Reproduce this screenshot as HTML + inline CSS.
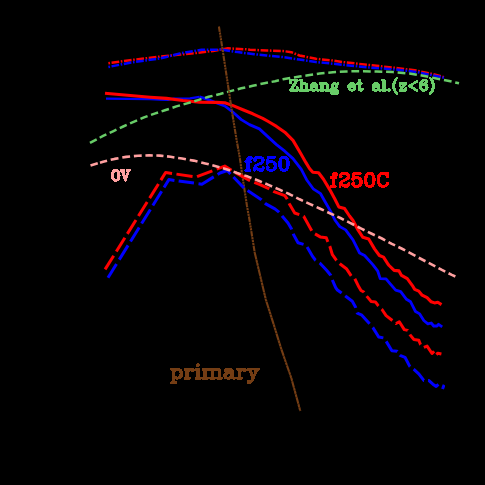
<!DOCTYPE html><html><head><meta charset="utf-8"><style>html,body{margin:0;padding:0;background:#000;overflow:hidden;}body{width:485px;height:485px;}svg{display:block;}</style></head><body>
<svg width="485" height="485" viewBox="0 0 485 485" shape-rendering="auto">
<rect width="485" height="485" fill="#000"/>
<path d="M108.4,63.2 L130.0,60.2 L160.0,56.6 L180.0,54.6 L196.5,52.9 L213.0,50.9 L227.9,48.3 L246.0,49.3 L250.0,49.7 L266.5,50.5 L283.0,51.0 L291.3,52.2 L299.5,55.5 L316.0,58.8 L330.0,60.2 L344.8,62.3 L369.5,65.0 L394.3,67.8 L400.0,68.4 L416.5,70.6 L433.0,74.1 L444.5,77.3" fill="none" stroke="#ff0000" stroke-width="2.5" stroke-linejoin="round" stroke-linecap="butt" stroke-dasharray="7.7 1.6 1.6 1.6" stroke-dashoffset="9.3"/>
<path d="M108.4,67.0 L130.0,62.7 L160.0,58.4 L171.0,55.8 L180.0,53.4 L201.5,49.8 L221.3,49.6 L237.8,52.1 L246.0,53.2 L254.3,54.2 L266.5,55.5 L283.0,57.1 L299.5,59.6 L316.0,62.1 L330.0,63.4 L344.8,65.0 L369.5,67.5 L394.3,69.4 L400.0,70.0 L416.5,72.0 L433.0,75.3 L444.5,77.9" fill="none" stroke="#0000ff" stroke-width="2.5" stroke-linejoin="round" stroke-linecap="butt" stroke-dasharray="7.7 1.6 1.6 1.6" stroke-dashoffset="9.3"/>
<path d="M199.5,96.8 L207.8,99.4 L216.0,102.7 L224.8,106.0 L233.0,112.2 L241.3,119.6 L249.5,124.6 L259.4,128.9 L268.3,137.1 L276.5,144.6 L284.8,151.2 L293.0,158.6 L301.3,169.3 L306.6,179.7 L313.2,188.8 L320.6,193.7 L324.8,201.2 L330.5,211.1 L334.9,220.0 L339.8,226.6 L345.6,229.9 L353.0,239.8 L359.6,253.0 L364.6,255.5 L372.8,264.6 L377.8,271.2 L380.2,278.6 L386.0,278.8 L390.0,283.6 L395.7,290.2 L400.7,291.6 L406.5,299.3 L410.6,301.8 L415.5,311.5 L419.7,313.9 L423.8,320.5 L427.9,323.8 L431.2,323.0 L433.7,326.0 L437.0,326.0 L438.6,324.3 L442.2,326.8" fill="none" stroke="#0000ff" stroke-width="2.8" stroke-linejoin="round" stroke-linecap="butt"/>
<path d="M106.0,98.7 L150.0,99.2 L160.0,99.6 L168.0,99.8 L174.0,98.5 L190.0,98.3 L199.5,96.8" fill="none" stroke="#0000ff" stroke-width="2.2" stroke-linejoin="round" stroke-linecap="butt"/>
<path d="M105.0,93.3 L150.0,97.2 L166.5,98.4 L183.0,100.5 L199.5,102.2 L216.5,102.4 L224.8,102.8 L233.0,105.6 L242.9,109.7 L252.8,113.8 L262.7,118.3 L268.3,121.5 L276.5,126.4 L284.8,132.2 L293.0,140.4 L301.3,154.5 L305.8,162.4 L309.5,168.5 L312.8,172.3 L318.6,172.8 L323.5,179.2 L329.7,189.6 L334.7,198.7 L338.8,206.9 L344.6,208.6 L349.5,216.0 L353.0,220.5 L358.0,229.9 L362.9,237.3 L368.7,239.0 L374.5,248.9 L379.4,255.5 L383.5,257.1 L387.7,263.7 L389.1,265.5 L394.1,270.4 L399.0,270.9 L401.5,275.4 L407.3,278.7 L412.2,285.3 L414.7,289.4 L418.8,291.1 L422.1,295.2 L427.1,297.7 L431.2,301.8 L434.5,302.9 L437.8,302.3 L441.5,304.6" fill="none" stroke="#ff0000" stroke-width="3.1" stroke-linejoin="round" stroke-linecap="butt"/>
<path d="M89.9,143.0 L98.1,138.6" fill="none" stroke="#68cc68" stroke-width="2.5" stroke-linejoin="round" stroke-linecap="butt" stroke-dasharray="7.600 3.700" stroke-dashoffset="-0.100"/>
<path d="M98.1,138.6 L103.1,135.9 L108.0,133.6" fill="none" stroke="#68cc68" stroke-width="2.5" stroke-linejoin="round" stroke-linecap="butt" pathLength="1.0000" stroke-dasharray="0 0.1637 0.6726 0.1637" stroke-dashoffset="0"/>
<path d="M108.0,133.6 L113.0,131.3 L118.1,128.9" fill="none" stroke="#68cc68" stroke-width="2.5" stroke-linejoin="round" stroke-linecap="butt" pathLength="1.0000" stroke-dasharray="0 0.1637 0.6726 0.1637" stroke-dashoffset="0"/>
<path d="M118.1,128.9 L123.2,126.5 L128.4,124.2" fill="none" stroke="#68cc68" stroke-width="2.5" stroke-linejoin="round" stroke-linecap="butt" pathLength="1.0000" stroke-dasharray="0 0.1637 0.6726 0.1637" stroke-dashoffset="0"/>
<path d="M128.4,124.2 L133.6,121.9 L138.8,119.7" fill="none" stroke="#68cc68" stroke-width="2.5" stroke-linejoin="round" stroke-linecap="butt" pathLength="1.0000" stroke-dasharray="0 0.1637 0.6726 0.1637" stroke-dashoffset="0"/>
<path d="M138.8,119.7 L144.0,117.4 L149.3,115.5" fill="none" stroke="#68cc68" stroke-width="2.5" stroke-linejoin="round" stroke-linecap="butt" pathLength="1.0000" stroke-dasharray="0 0.1637 0.6726 0.1637" stroke-dashoffset="0"/>
<path d="M149.3,115.5 L154.6,113.6 L159.8,112.0" fill="none" stroke="#68cc68" stroke-width="2.5" stroke-linejoin="round" stroke-linecap="butt" pathLength="1.0000" stroke-dasharray="0 0.1637 0.6726 0.1637" stroke-dashoffset="0"/>
<path d="M159.8,112.0 L164.9,110.3 L170.7,108.4" fill="none" stroke="#68cc68" stroke-width="2.5" stroke-linejoin="round" stroke-linecap="butt" pathLength="1.0000" stroke-dasharray="0 0.1637 0.6726 0.1637" stroke-dashoffset="0"/>
<path d="M170.7,108.4 L176.4,106.4 L181.8,104.9" fill="none" stroke="#68cc68" stroke-width="2.5" stroke-linejoin="round" stroke-linecap="butt" pathLength="1.0000" stroke-dasharray="0 0.1637 0.6726 0.1637" stroke-dashoffset="0"/>
<path d="M181.8,104.9 L187.1,103.4 L192.5,101.8" fill="none" stroke="#68cc68" stroke-width="2.5" stroke-linejoin="round" stroke-linecap="butt" pathLength="1.0000" stroke-dasharray="0 0.1637 0.6726 0.1637" stroke-dashoffset="0"/>
<path d="M192.5,101.8 L197.9,100.1 L203.2,98.5" fill="none" stroke="#68cc68" stroke-width="2.5" stroke-linejoin="round" stroke-linecap="butt" pathLength="1.0000" stroke-dasharray="0 0.1637 0.6726 0.1637" stroke-dashoffset="0"/>
<path d="M203.2,98.5 L208.6,96.8 L214.4,95.4" fill="none" stroke="#68cc68" stroke-width="2.5" stroke-linejoin="round" stroke-linecap="butt" pathLength="1.0000" stroke-dasharray="0 0.1637 0.6726 0.1637" stroke-dashoffset="0"/>
<path d="M214.4,95.4 L220.1,94.0 L225.3,92.6" fill="none" stroke="#68cc68" stroke-width="2.5" stroke-linejoin="round" stroke-linecap="butt" pathLength="1.0000" stroke-dasharray="0 0.1637 0.6726 0.1637" stroke-dashoffset="0"/>
<path d="M225.3,92.6 L230.5,91.1 L235.9,89.7" fill="none" stroke="#68cc68" stroke-width="2.5" stroke-linejoin="round" stroke-linecap="butt" pathLength="1.0000" stroke-dasharray="0 0.1637 0.6726 0.1637" stroke-dashoffset="0"/>
<path d="M235.9,89.7 L241.3,88.3 L247.1,87.1" fill="none" stroke="#68cc68" stroke-width="2.5" stroke-linejoin="round" stroke-linecap="butt" pathLength="1.0000" stroke-dasharray="0 0.1637 0.6726 0.1637" stroke-dashoffset="0"/>
<path d="M247.1,87.1 L252.8,85.8 L258.6,84.5" fill="none" stroke="#68cc68" stroke-width="2.5" stroke-linejoin="round" stroke-linecap="butt" pathLength="1.0000" stroke-dasharray="0 0.1637 0.6726 0.1637" stroke-dashoffset="0"/>
<path d="M258.6,84.5 L264.4,83.2 L269.8,82.2" fill="none" stroke="#68cc68" stroke-width="2.5" stroke-linejoin="round" stroke-linecap="butt" pathLength="1.0000" stroke-dasharray="0 0.1637 0.6726 0.1637" stroke-dashoffset="0"/>
<path d="M269.8,82.2 L275.1,81.2 L280.7,79.8" fill="none" stroke="#68cc68" stroke-width="2.5" stroke-linejoin="round" stroke-linecap="butt" pathLength="1.0000" stroke-dasharray="0 0.1637 0.6726 0.1637" stroke-dashoffset="0"/>
<path d="M280.7,79.8 L283.0,79.3 L299.5,76.5 L306.5,75.5 L319.7,73.5 L332.9,72.2 L346.1,71.4 L357.6,71.3 L376.5,71.5 L393.0,72.1 L409.5,73.5 L418.7,75.0" fill="none" stroke="#68cc68" stroke-width="2.5" stroke-linejoin="round" stroke-linecap="butt" pathLength="12.0000" stroke-dasharray="0 0.1637 0.6726 0.1637" stroke-dashoffset="0"/>
<path d="M418.7,75.0 L424.4,76.0 L430.1,77.2" fill="none" stroke="#68cc68" stroke-width="2.5" stroke-linejoin="round" stroke-linecap="butt" pathLength="1.0000" stroke-dasharray="0 0.1637 0.6726 0.1637" stroke-dashoffset="0"/>
<path d="M430.1,77.2 L437.6,78.8 L442.1,79.6" fill="none" stroke="#68cc68" stroke-width="2.5" stroke-linejoin="round" stroke-linecap="butt" pathLength="1.0000" stroke-dasharray="0 0.1637 0.6726 0.1637" stroke-dashoffset="0"/>
<path d="M442.1,79.6 L447.9,80.7 L453.4,82.0" fill="none" stroke="#68cc68" stroke-width="2.5" stroke-linejoin="round" stroke-linecap="butt" pathLength="1.0000" stroke-dasharray="0 0.1637 0.6726 0.1637" stroke-dashoffset="0"/>
<path d="M453.4,82.0 L459.0,83.3" fill="none" stroke="#68cc68" stroke-width="2.5" stroke-linejoin="round" stroke-linecap="butt" pathLength="0.5044" stroke-dasharray="0 0.1637 0.6726 0.1637" stroke-dashoffset="0"/>
<path d="M218.9,26.5 L222.6,49.6 L227.2,80.0 L232.2,113.0 L236.6,140.0 L239.6,156.5 L243.2,181.3 L247.0,206.0 L249.5,220.0 L254.8,253.0" fill="none" stroke="#743d14" stroke-width="2.1" stroke-linejoin="round" stroke-linecap="butt" stroke-dasharray="5.4 0.7 2.2 0.7 2.2 0.7 2.2 0.7" stroke-dashoffset="0"/>
<path d="M254.8,253.0 L265.8,299.5 L273.8,324.8 L281.5,349.7 L291.3,378.0 L300.3,411.0" fill="none" stroke="#743d14" stroke-width="2.1" stroke-linejoin="round" stroke-linecap="butt" stroke-dasharray="6.8 0.3 2.9 0.3 2.9 0.3 2.9 0.3" stroke-dashoffset="0"/>
<path d="M108.0,277.7 L118.0,261.6" fill="none" stroke="#0000ff" stroke-width="3.0" stroke-linejoin="round" stroke-linecap="butt" stroke-dasharray="16.400 4.600" stroke-dashoffset="-20.694"/>
<path d="M118.0,261.6 L129.3,243.4" fill="none" stroke="#0000ff" stroke-width="3.0" stroke-linejoin="round" stroke-linecap="butt" pathLength="1.0000" stroke-dasharray="0 0.1095 0.7810 0.1095" stroke-dashoffset="0"/>
<path d="M129.3,243.4 L140.4,225.5" fill="none" stroke="#0000ff" stroke-width="3.0" stroke-linejoin="round" stroke-linecap="butt" pathLength="1.0000" stroke-dasharray="0 0.1095 0.7810 0.1095" stroke-dashoffset="0"/>
<path d="M140.4,225.5 L151.6,207.5" fill="none" stroke="#0000ff" stroke-width="3.0" stroke-linejoin="round" stroke-linecap="butt" pathLength="1.0000" stroke-dasharray="0 0.1095 0.7810 0.1095" stroke-dashoffset="0"/>
<path d="M151.6,207.5 L162.9,189.3" fill="none" stroke="#0000ff" stroke-width="3.0" stroke-linejoin="round" stroke-linecap="butt" pathLength="1.0000" stroke-dasharray="0 0.1095 0.7810 0.1095" stroke-dashoffset="0"/>
<path d="M162.9,189.3 L168.9,179.6 L176.5,180.7" fill="none" stroke="#0000ff" stroke-width="3.0" stroke-linejoin="round" stroke-linecap="butt" pathLength="1.0000" stroke-dasharray="0 0.1095 0.7810 0.1095" stroke-dashoffset="0"/>
<path d="M176.5,180.7 L196.1,183.4" fill="none" stroke="#0000ff" stroke-width="3.0" stroke-linejoin="round" stroke-linecap="butt" pathLength="1.0000" stroke-dasharray="0 0.1095 0.7810 0.1095" stroke-dashoffset="0"/>
<path d="M196.1,183.4 L201.9,184.2 L215.8,175.6" fill="none" stroke="#0000ff" stroke-width="3.0" stroke-linejoin="round" stroke-linecap="butt" pathLength="1.0000" stroke-dasharray="0 0.1095 0.7810 0.1095" stroke-dashoffset="0"/>
<path d="M215.8,175.6 L220.0,173.0 L227.2,170.5 L244.6,188.7 L245.6,189.3" fill="none" stroke="#0000ff" stroke-width="3.0" stroke-linejoin="round" stroke-linecap="butt" pathLength="2.0000" stroke-dasharray="0 0.1095 0.7810 0.1095" stroke-dashoffset="0"/>
<path d="M245.6,189.3 L261.0,199.4 L263.3,201.5" fill="none" stroke="#0000ff" stroke-width="3.0" stroke-linejoin="round" stroke-linecap="butt" pathLength="1.0000" stroke-dasharray="0 0.1095 0.7810 0.1095" stroke-dashoffset="0"/>
<path d="M263.3,201.5 L265.8,203.9 L274.9,208.9 L279.0,212.2 L280.6,214.1" fill="none" stroke="#0000ff" stroke-width="3.0" stroke-linejoin="round" stroke-linecap="butt" pathLength="1.0000" stroke-dasharray="0 0.1095 0.7810 0.1095" stroke-dashoffset="0"/>
<path d="M280.6,214.1 L282.3,216.3 L288.0,222.9 L291.4,228.7 L292.4,231.6" fill="none" stroke="#0000ff" stroke-width="3.0" stroke-linejoin="round" stroke-linecap="butt" pathLength="1.0000" stroke-dasharray="0 0.1095 0.7810 0.1095" stroke-dashoffset="0"/>
<path d="M292.4,231.6 L293.5,234.5 L298.0,242.7 L303.7,244.4 L305.4,245.6" fill="none" stroke="#0000ff" stroke-width="3.0" stroke-linejoin="round" stroke-linecap="butt" pathLength="1.0000" stroke-dasharray="0 0.1095 0.7810 0.1095" stroke-dashoffset="0"/>
<path d="M305.4,245.6 L307.0,246.8 L312.8,256.7 L315.3,260.0 L317.6,261.6" fill="none" stroke="#0000ff" stroke-width="3.0" stroke-linejoin="round" stroke-linecap="butt" pathLength="1.0000" stroke-dasharray="0 0.1095 0.7810 0.1095" stroke-dashoffset="0"/>
<path d="M317.6,261.6 L320.0,263.2 L326.6,270.3 L330.7,275.3 L331.6,277.8" fill="none" stroke="#0000ff" stroke-width="3.0" stroke-linejoin="round" stroke-linecap="butt" pathLength="1.0000" stroke-dasharray="0 0.1095 0.7810 0.1095" stroke-dashoffset="0"/>
<path d="M331.6,277.8 L332.4,280.2 L335.7,287.7 L337.4,290.0 L341.6,293.0 L343.4,294.5" fill="none" stroke="#0000ff" stroke-width="3.0" stroke-linejoin="round" stroke-linecap="butt" pathLength="1.0000" stroke-dasharray="0 0.1095 0.7810 0.1095" stroke-dashoffset="0"/>
<path d="M343.4,294.5 L345.7,296.3 L352.3,301.2 L355.6,307.3 L356.4,310.2" fill="none" stroke="#0000ff" stroke-width="3.0" stroke-linejoin="round" stroke-linecap="butt" pathLength="1.0000" stroke-dasharray="0 0.1095 0.7810 0.1095" stroke-dashoffset="0"/>
<path d="M356.4,310.2 L357.2,313.1 L361.4,314.8 L369.6,323.8 L371.2,325.7" fill="none" stroke="#0000ff" stroke-width="3.0" stroke-linejoin="round" stroke-linecap="butt" pathLength="1.0000" stroke-dasharray="0 0.1095 0.7810 0.1095" stroke-dashoffset="0"/>
<path d="M371.2,325.7 L372.9,327.6 L378.7,337.0 L383.6,337.9 L384.8,339.5" fill="none" stroke="#0000ff" stroke-width="3.0" stroke-linejoin="round" stroke-linecap="butt" pathLength="1.0000" stroke-dasharray="0 0.1095 0.7810 0.1095" stroke-dashoffset="0"/>
<path d="M384.8,339.5 L386.1,341.2 L391.9,350.7 L397.1,351.3 L398.6,353.4" fill="none" stroke="#0000ff" stroke-width="3.0" stroke-linejoin="round" stroke-linecap="butt" pathLength="1.0000" stroke-dasharray="0 0.1095 0.7810 0.1095" stroke-dashoffset="0"/>
<path d="M398.6,353.4 L400.0,355.4 L405.0,357.3 L409.9,366.6 L411.8,367.9" fill="none" stroke="#0000ff" stroke-width="3.0" stroke-linejoin="round" stroke-linecap="butt" pathLength="1.0000" stroke-dasharray="0 0.1095 0.7810 0.1095" stroke-dashoffset="0"/>
<path d="M411.8,367.9 L413.9,369.4 L418.8,373.8 L423.8,380.4 L426.2,380.4" fill="none" stroke="#0000ff" stroke-width="3.0" stroke-linejoin="round" stroke-linecap="butt" pathLength="1.0000" stroke-dasharray="0 0.1095 0.7810 0.1095" stroke-dashoffset="0"/>
<path d="M426.2,380.4 L428.7,380.4 L432.9,384.2 L436.2,386.5 L438.6,384.2 L440.1,384.8" fill="none" stroke="#0000ff" stroke-width="3.0" stroke-linejoin="round" stroke-linecap="butt" pathLength="1.0000" stroke-dasharray="0 0.1095 0.7810 0.1095" stroke-dashoffset="0"/>
<path d="M440.1,384.8 L443.6,386.2 L442.5,389.0" fill="none" stroke="#0000ff" stroke-width="3.0" stroke-linejoin="round" stroke-linecap="butt" pathLength="0.3236" stroke-dasharray="0 0.1095 0.7810 0.1095" stroke-dashoffset="0"/>
<path d="M105.1,269.4 L115.1,253.4" fill="none" stroke="#ff0000" stroke-width="3.0" stroke-linejoin="round" stroke-linecap="butt" stroke-dasharray="16.400 4.600" stroke-dashoffset="-20.790"/>
<path d="M115.1,253.4 L126.1,235.8" fill="none" stroke="#ff0000" stroke-width="3.0" stroke-linejoin="round" stroke-linecap="butt" pathLength="1.0000" stroke-dasharray="0 0.1095 0.7810 0.1095" stroke-dashoffset="0"/>
<path d="M126.1,235.8 L137.2,218.0" fill="none" stroke="#ff0000" stroke-width="3.0" stroke-linejoin="round" stroke-linecap="butt" pathLength="1.0000" stroke-dasharray="0 0.1095 0.7810 0.1095" stroke-dashoffset="0"/>
<path d="M137.2,218.0 L148.4,200.1" fill="none" stroke="#ff0000" stroke-width="3.0" stroke-linejoin="round" stroke-linecap="butt" pathLength="1.0000" stroke-dasharray="0 0.1095 0.7810 0.1095" stroke-dashoffset="0"/>
<path d="M148.4,200.1 L159.7,182.0" fill="none" stroke="#ff0000" stroke-width="3.0" stroke-linejoin="round" stroke-linecap="butt" pathLength="1.0000" stroke-dasharray="0 0.1095 0.7810 0.1095" stroke-dashoffset="0"/>
<path d="M159.7,182.0 L165.6,172.5 L174.2,173.8" fill="none" stroke="#ff0000" stroke-width="3.0" stroke-linejoin="round" stroke-linecap="butt" pathLength="1.0000" stroke-dasharray="0 0.1095 0.7810 0.1095" stroke-dashoffset="0"/>
<path d="M174.2,173.8 L194.8,176.8" fill="none" stroke="#ff0000" stroke-width="3.0" stroke-linejoin="round" stroke-linecap="butt" pathLength="1.0000" stroke-dasharray="0 0.1095 0.7810 0.1095" stroke-dashoffset="0"/>
<path d="M194.8,176.8 L196.1,177.0 L214.5,170.0" fill="none" stroke="#ff0000" stroke-width="3.0" stroke-linejoin="round" stroke-linecap="butt" pathLength="1.0000" stroke-dasharray="0 0.1095 0.7810 0.1095" stroke-dashoffset="0"/>
<path d="M214.5,170.0 L224.8,166.1 L234.7,172.2 L249.5,180.4 L252.2,181.5" fill="none" stroke="#ff0000" stroke-width="3.0" stroke-linejoin="round" stroke-linecap="butt" pathLength="2.0000" stroke-dasharray="0 0.1095 0.7810 0.1095" stroke-dashoffset="0"/>
<path d="M252.2,181.5 L260.0,184.6 L268.3,188.3 L271.3,190.0" fill="none" stroke="#ff0000" stroke-width="3.0" stroke-linejoin="round" stroke-linecap="butt" pathLength="1.0000" stroke-dasharray="0 0.1095 0.7810 0.1095" stroke-dashoffset="0"/>
<path d="M271.3,190.0 L274.0,191.6 L284.8,195.7 L287.2,199.0 L288.2,201.3" fill="none" stroke="#ff0000" stroke-width="3.0" stroke-linejoin="round" stroke-linecap="butt" pathLength="1.0000" stroke-dasharray="0 0.1095 0.7810 0.1095" stroke-dashoffset="0"/>
<path d="M288.2,201.3 L289.4,203.9 L294.7,213.0 L299.6,214.7 L301.4,215.4" fill="none" stroke="#ff0000" stroke-width="3.0" stroke-linejoin="round" stroke-linecap="butt" pathLength="1.0000" stroke-dasharray="0 0.1095 0.7810 0.1095" stroke-dashoffset="0"/>
<path d="M301.4,215.4 L303.7,216.3 L312.0,231.2 L313.3,232.4" fill="none" stroke="#ff0000" stroke-width="3.0" stroke-linejoin="round" stroke-linecap="butt" pathLength="1.0000" stroke-dasharray="0 0.1095 0.7810 0.1095" stroke-dashoffset="0"/>
<path d="M313.3,232.4 L314.5,233.6 L320.2,236.9 L326.3,237.8 L327.8,241.7 L328.8,244.0" fill="none" stroke="#ff0000" stroke-width="3.0" stroke-linejoin="round" stroke-linecap="butt" pathLength="1.0000" stroke-dasharray="0 0.1095 0.7810 0.1095" stroke-dashoffset="0"/>
<path d="M328.8,244.0 L329.8,246.2 L332.4,254.7 L336.5,260.4 L338.1,262.0" fill="none" stroke="#ff0000" stroke-width="3.0" stroke-linejoin="round" stroke-linecap="butt" pathLength="1.0000" stroke-dasharray="0 0.1095 0.7810 0.1095" stroke-dashoffset="0"/>
<path d="M338.1,262.0 L339.8,263.7 L346.4,268.7 L351.4,276.1 L353.0,277.3" fill="none" stroke="#ff0000" stroke-width="3.0" stroke-linejoin="round" stroke-linecap="butt" pathLength="1.0000" stroke-dasharray="0 0.1095 0.7810 0.1095" stroke-dashoffset="0"/>
<path d="M353.0,277.3 L354.7,278.6 L358.8,286.8 L361.0,290.5 L363.8,292.0 L365.4,294.2" fill="none" stroke="#ff0000" stroke-width="3.0" stroke-linejoin="round" stroke-linecap="butt" pathLength="1.0000" stroke-dasharray="0 0.1095 0.7810 0.1095" stroke-dashoffset="0"/>
<path d="M365.4,294.2 L367.1,296.6 L371.3,301.6 L375.4,301.9 L378.2,305.7 L380.1,307.6" fill="none" stroke="#ff0000" stroke-width="3.0" stroke-linejoin="round" stroke-linecap="butt" pathLength="1.0000" stroke-dasharray="0 0.1095 0.7810 0.1095" stroke-dashoffset="0"/>
<path d="M380.1,307.6 L382.0,309.5 L386.1,315.6 L392.4,320.5 L394.1,321.9" fill="none" stroke="#ff0000" stroke-width="3.0" stroke-linejoin="round" stroke-linecap="butt" pathLength="1.0000" stroke-dasharray="0 0.1095 0.7810 0.1095" stroke-dashoffset="0"/>
<path d="M394.1,321.9 L396.0,323.5 L399.3,321.7 L404.3,329.6 L407.6,330.4 L408.8,332.6" fill="none" stroke="#ff0000" stroke-width="3.0" stroke-linejoin="round" stroke-linecap="butt" pathLength="1.0000" stroke-dasharray="0 0.1095 0.7810 0.1095" stroke-dashoffset="0"/>
<path d="M408.8,332.6 L410.1,334.9 L413.9,339.5 L418.8,340.3 L420.5,344.5 L422.2,346.0" fill="none" stroke="#ff0000" stroke-width="3.0" stroke-linejoin="round" stroke-linecap="butt" pathLength="1.0000" stroke-dasharray="0 0.1095 0.7810 0.1095" stroke-dashoffset="0"/>
<path d="M422.2,346.0 L423.8,347.4 L427.1,346.1 L432.0,353.5 L434.2,351.1 L435.2,352.9" fill="none" stroke="#ff0000" stroke-width="3.0" stroke-linejoin="round" stroke-linecap="butt" pathLength="1.0000" stroke-dasharray="0 0.1095 0.7810 0.1095" stroke-dashoffset="0"/>
<path d="M435.2,352.9 L436.2,354.7 L437.8,353.2 L441.4,354.0" fill="none" stroke="#ff0000" stroke-width="3.0" stroke-linejoin="round" stroke-linecap="butt" pathLength="0.3781" stroke-dasharray="0 0.1095 0.7810 0.1095" stroke-dashoffset="0"/>
<path d="M89.9,165.8 L98.3,163.2" fill="none" stroke="#ffa0a0" stroke-width="2.6" stroke-linejoin="round" stroke-linecap="butt" stroke-dasharray="7.600 3.700" stroke-dashoffset="-0.642"/>
<path d="M98.3,163.2 L103.1,161.7 L108.8,160.3" fill="none" stroke="#ffa0a0" stroke-width="2.6" stroke-linejoin="round" stroke-linecap="butt" pathLength="1.0000" stroke-dasharray="0 0.1637 0.6726 0.1637" stroke-dashoffset="0"/>
<path d="M108.8,160.3 L114.6,158.9 L120.4,157.9" fill="none" stroke="#ffa0a0" stroke-width="2.6" stroke-linejoin="round" stroke-linecap="butt" pathLength="1.0000" stroke-dasharray="0 0.1637 0.6726 0.1637" stroke-dashoffset="0"/>
<path d="M120.4,157.9 L126.2,156.9 L132.0,156.3" fill="none" stroke="#ffa0a0" stroke-width="2.6" stroke-linejoin="round" stroke-linecap="butt" pathLength="1.0000" stroke-dasharray="0 0.1637 0.6726 0.1637" stroke-dashoffset="0"/>
<path d="M132.0,156.3 L137.8,155.7 L143.6,155.6" fill="none" stroke="#ffa0a0" stroke-width="2.6" stroke-linejoin="round" stroke-linecap="butt" pathLength="1.0000" stroke-dasharray="0 0.1637 0.6726 0.1637" stroke-dashoffset="0"/>
<path d="M143.6,155.6 L149.3,155.4 L154.6,155.5" fill="none" stroke="#ffa0a0" stroke-width="2.6" stroke-linejoin="round" stroke-linecap="butt" pathLength="1.0000" stroke-dasharray="0 0.1637 0.6726 0.1637" stroke-dashoffset="0"/>
<path d="M154.6,155.5 L159.8,155.6 L165.2,156.2" fill="none" stroke="#ffa0a0" stroke-width="2.6" stroke-linejoin="round" stroke-linecap="butt" pathLength="1.0000" stroke-dasharray="0 0.1637 0.6726 0.1637" stroke-dashoffset="0"/>
<path d="M165.2,156.2 L170.5,156.8 L176.2,157.7" fill="none" stroke="#ffa0a0" stroke-width="2.6" stroke-linejoin="round" stroke-linecap="butt" pathLength="1.0000" stroke-dasharray="0 0.1637 0.6726 0.1637" stroke-dashoffset="0"/>
<path d="M176.2,157.7 L182.0,158.5 L187.8,159.6" fill="none" stroke="#ffa0a0" stroke-width="2.6" stroke-linejoin="round" stroke-linecap="butt" pathLength="1.0000" stroke-dasharray="0 0.1637 0.6726 0.1637" stroke-dashoffset="0"/>
<path d="M187.8,159.6 L193.6,160.6 L199.4,162.0" fill="none" stroke="#ffa0a0" stroke-width="2.6" stroke-linejoin="round" stroke-linecap="butt" pathLength="1.0000" stroke-dasharray="0 0.1637 0.6726 0.1637" stroke-dashoffset="0"/>
<path d="M199.4,162.0 L205.2,163.4 L210.6,164.8" fill="none" stroke="#ffa0a0" stroke-width="2.6" stroke-linejoin="round" stroke-linecap="butt" pathLength="1.0000" stroke-dasharray="0 0.1637 0.6726 0.1637" stroke-dashoffset="0"/>
<path d="M210.6,164.8 L215.9,166.2 L221.2,167.7" fill="none" stroke="#ffa0a0" stroke-width="2.6" stroke-linejoin="round" stroke-linecap="butt" pathLength="1.0000" stroke-dasharray="0 0.1637 0.6726 0.1637" stroke-dashoffset="0"/>
<path d="M221.2,167.7 L226.4,169.2 L231.8,171.1" fill="none" stroke="#ffa0a0" stroke-width="2.6" stroke-linejoin="round" stroke-linecap="butt" pathLength="1.0000" stroke-dasharray="0 0.1637 0.6726 0.1637" stroke-dashoffset="0"/>
<path d="M231.8,171.1 L237.1,173.0 L242.5,174.8" fill="none" stroke="#ffa0a0" stroke-width="2.6" stroke-linejoin="round" stroke-linecap="butt" pathLength="1.0000" stroke-dasharray="0 0.1637 0.6726 0.1637" stroke-dashoffset="0"/>
<path d="M242.5,174.8 L247.9,176.6 L253.2,178.7" fill="none" stroke="#ffa0a0" stroke-width="2.6" stroke-linejoin="round" stroke-linecap="butt" pathLength="1.0000" stroke-dasharray="0 0.1637 0.6726 0.1637" stroke-dashoffset="0"/>
<path d="M253.2,178.7 L258.6,180.7 L263.6,182.8" fill="none" stroke="#ffa0a0" stroke-width="2.6" stroke-linejoin="round" stroke-linecap="butt" pathLength="1.0000" stroke-dasharray="0 0.1637 0.6726 0.1637" stroke-dashoffset="0"/>
<path d="M263.6,182.8 L268.5,184.9 L273.8,187.2" fill="none" stroke="#ffa0a0" stroke-width="2.6" stroke-linejoin="round" stroke-linecap="butt" pathLength="1.0000" stroke-dasharray="0 0.1637 0.6726 0.1637" stroke-dashoffset="0"/>
<path d="M273.8,187.2 L279.0,189.4 L284.4,191.9" fill="none" stroke="#ffa0a0" stroke-width="2.6" stroke-linejoin="round" stroke-linecap="butt" pathLength="1.0000" stroke-dasharray="0 0.1637 0.6726 0.1637" stroke-dashoffset="0"/>
<path d="M284.4,191.9 L289.7,194.3 L294.6,196.8" fill="none" stroke="#ffa0a0" stroke-width="2.6" stroke-linejoin="round" stroke-linecap="butt" pathLength="1.0000" stroke-dasharray="0 0.1637 0.6726 0.1637" stroke-dashoffset="0"/>
<path d="M294.6,196.8 L299.6,199.3 L304.6,201.6" fill="none" stroke="#ffa0a0" stroke-width="2.6" stroke-linejoin="round" stroke-linecap="butt" pathLength="1.0000" stroke-dasharray="0 0.1637 0.6726 0.1637" stroke-dashoffset="0"/>
<path d="M304.6,201.6 L309.5,203.9 L314.9,206.3" fill="none" stroke="#ffa0a0" stroke-width="2.6" stroke-linejoin="round" stroke-linecap="butt" pathLength="1.0000" stroke-dasharray="0 0.1637 0.6726 0.1637" stroke-dashoffset="0"/>
<path d="M314.9,206.3 L320.2,208.7 L325.6,211.2" fill="none" stroke="#ffa0a0" stroke-width="2.6" stroke-linejoin="round" stroke-linecap="butt" pathLength="1.0000" stroke-dasharray="0 0.1637 0.6726 0.1637" stroke-dashoffset="0"/>
<path d="M325.6,211.2 L331.0,213.8 L335.7,215.9" fill="none" stroke="#ffa0a0" stroke-width="2.6" stroke-linejoin="round" stroke-linecap="butt" pathLength="1.0000" stroke-dasharray="0 0.1637 0.6726 0.1637" stroke-dashoffset="0"/>
<path d="M335.7,215.9 L340.4,218.0 L345.4,220.6" fill="none" stroke="#ffa0a0" stroke-width="2.6" stroke-linejoin="round" stroke-linecap="butt" pathLength="1.0000" stroke-dasharray="0 0.1637 0.6726 0.1637" stroke-dashoffset="0"/>
<path d="M345.4,220.6 L350.5,223.1 L355.9,225.9" fill="none" stroke="#ffa0a0" stroke-width="2.6" stroke-linejoin="round" stroke-linecap="butt" pathLength="1.0000" stroke-dasharray="0 0.1637 0.6726 0.1637" stroke-dashoffset="0"/>
<path d="M355.9,225.9 L361.3,228.6 L366.2,231.1" fill="none" stroke="#ffa0a0" stroke-width="2.6" stroke-linejoin="round" stroke-linecap="butt" pathLength="1.0000" stroke-dasharray="0 0.1637 0.6726 0.1637" stroke-dashoffset="0"/>
<path d="M366.2,231.1 L371.2,233.5 L376.5,236.0" fill="none" stroke="#ffa0a0" stroke-width="2.6" stroke-linejoin="round" stroke-linecap="butt" pathLength="1.0000" stroke-dasharray="0 0.1637 0.6726 0.1637" stroke-dashoffset="0"/>
<path d="M376.5,236.0 L381.9,238.5 L386.9,241.2" fill="none" stroke="#ffa0a0" stroke-width="2.6" stroke-linejoin="round" stroke-linecap="butt" pathLength="1.0000" stroke-dasharray="0 0.1637 0.6726 0.1637" stroke-dashoffset="0"/>
<path d="M386.9,241.2 L391.8,243.9 L396.7,246.2" fill="none" stroke="#ffa0a0" stroke-width="2.6" stroke-linejoin="round" stroke-linecap="butt" pathLength="1.0000" stroke-dasharray="0 0.1637 0.6726 0.1637" stroke-dashoffset="0"/>
<path d="M396.7,246.2 L401.5,248.5 L406.8,251.3" fill="none" stroke="#ffa0a0" stroke-width="2.6" stroke-linejoin="round" stroke-linecap="butt" pathLength="1.0000" stroke-dasharray="0 0.1637 0.6726 0.1637" stroke-dashoffset="0"/>
<path d="M406.8,251.3 L412.2,254.2 L417.1,256.9" fill="none" stroke="#ffa0a0" stroke-width="2.6" stroke-linejoin="round" stroke-linecap="butt" pathLength="1.0000" stroke-dasharray="0 0.1637 0.6726 0.1637" stroke-dashoffset="0"/>
<path d="M417.1,256.9 L422.1,259.5 L427.1,262.1" fill="none" stroke="#ffa0a0" stroke-width="2.6" stroke-linejoin="round" stroke-linecap="butt" pathLength="1.0000" stroke-dasharray="0 0.1637 0.6726 0.1637" stroke-dashoffset="0"/>
<path d="M427.1,262.1 L432.0,264.6 L436.9,267.2" fill="none" stroke="#ffa0a0" stroke-width="2.6" stroke-linejoin="round" stroke-linecap="butt" pathLength="1.0000" stroke-dasharray="0 0.1637 0.6726 0.1637" stroke-dashoffset="0"/>
<path d="M436.9,267.2 L441.9,269.9 L446.9,272.4" fill="none" stroke="#ffa0a0" stroke-width="2.6" stroke-linejoin="round" stroke-linecap="butt" pathLength="1.0000" stroke-dasharray="0 0.1637 0.6726 0.1637" stroke-dashoffset="0"/>
<path d="M446.9,272.4 L451.8,274.9 L456.0,276.8" fill="none" stroke="#ffa0a0" stroke-width="2.6" stroke-linejoin="round" stroke-linecap="butt" pathLength="0.8987" stroke-dasharray="0 0.1637 0.6726 0.1637" stroke-dashoffset="0"/>
<path aria-label="Zhang et al.(z&lt;6)" d="M100.10,-2.35 100.05,-2.30 99.75,-2.30 99.40,-2.15 98.70,-1.50 98.40,-1.00 98.30,-0.50 98.40,0.00 98.85,0.65 99.40,1.15 99.75,1.30 100.05,1.30 100.10,1.35 100.60,1.25 101.10,0.95 101.75,0.20 101.90,-0.15 101.90,-0.45 101.95,-0.50 101.85,-1.00 101.55,-1.50 101.10,-1.95 100.95,-2.00 100.80,-2.15 100.45,-2.30 100.15,-2.30ZM109.95,-7.85 109.70,-7.55 109.55,-7.20 109.55,-6.90 109.50,-6.85 109.50,-4.90 109.55,-4.85 109.55,-4.55 109.70,-4.20 110.15,-3.75 110.50,-3.60 110.80,-3.60 110.85,-3.55 110.90,-3.60 111.20,-3.60 111.55,-3.75 111.85,-4.00 112.00,-4.20 112.10,-4.50 112.20,-4.55 112.35,-5.30 112.45,-5.50 113.40,-5.50 113.45,-5.45 109.70,-0.70 109.55,-0.35 109.55,-0.05 109.50,0.00 109.60,0.50 109.85,0.90 110.35,1.25 110.85,1.35 116.75,1.35 117.25,1.25 117.65,1.00 117.90,0.70 118.05,0.35 118.05,0.05 118.10,0.00 118.10,-1.95 118.05,-2.00 118.05,-2.30 117.90,-2.65 117.45,-3.10 117.10,-3.25 116.80,-3.25 116.75,-3.30 116.70,-3.25 116.40,-3.25 116.05,-3.10 115.75,-2.85 115.60,-2.65 115.50,-2.35 115.40,-2.30 115.25,-1.55 115.15,-1.35 114.25,-1.35 114.20,-1.45 117.90,-6.15 118.05,-6.50 118.05,-6.80 118.10,-6.85 118.00,-7.35 117.75,-7.75 117.25,-8.10 116.75,-8.20 110.85,-8.20 110.35,-8.10ZM62.15,-8.15 60.60,-7.65 60.15,-7.35 59.10,-6.35 58.80,-5.85 58.30,-4.40 58.35,-4.30 58.25,-3.90 58.25,-2.95 58.35,-2.55 58.30,-2.45 58.90,-0.75 60.05,0.45 60.70,0.85 62.05,1.30 62.45,1.30 62.50,1.35 63.90,1.30 65.40,0.80 65.65,0.65 65.80,0.50 65.95,0.45 67.10,-0.75 67.25,-1.10 67.25,-1.40 67.30,-1.45 67.25,-1.50 67.25,-1.80 66.95,-2.35 66.60,-2.60 66.55,-2.70 66.95,-3.00 67.25,-3.55 67.25,-3.85 67.30,-3.90 67.25,-5.25 66.60,-6.55 65.85,-7.35 65.50,-7.60 64.35,-8.15 64.05,-8.15 64.00,-8.20 62.50,-8.20 62.45,-8.15ZM61.65,-2.40 61.70,-2.55 65.10,-2.55 65.15,-2.50 64.75,-2.20 64.20,-1.65 63.30,-1.35 62.80,-1.35 62.40,-1.55 61.75,-2.15ZM62.50,-5.30 62.85,-5.50 63.70,-5.50 63.95,-5.35 63.90,-5.25 62.55,-5.25ZM21.15,-6.20 21.15,-5.90 21.10,-5.85 21.15,-5.00 21.50,-4.35 21.30,-4.10 20.75,-3.05 20.80,-3.00 20.70,-2.80 20.70,-2.50 20.65,-2.45 20.65,-1.45 20.70,-1.40 20.70,-1.10 20.80,-0.90 20.75,-0.85 21.20,0.05 21.55,0.50 22.15,0.85 23.50,1.30 23.55,1.25 23.95,1.35 25.40,1.35 25.45,1.30 25.75,1.30 26.95,0.75 27.10,0.60 28.30,1.25 28.80,1.35 29.65,1.30 30.00,1.15 30.25,0.95 30.75,1.25 31.25,1.35 34.70,1.35 35.20,1.25 35.65,0.95 36.15,1.25 36.65,1.35 40.05,1.35 40.65,1.20 40.70,1.25 40.65,1.45 40.70,2.30 41.25,3.50 41.50,3.85 41.80,4.10 42.10,4.25 43.45,4.70 43.90,4.70 43.95,4.75 46.90,4.75 46.95,4.70 47.35,4.70 48.85,4.20 49.25,3.95 49.50,3.65 50.15,2.30 50.15,2.00 50.20,1.95 50.15,1.10 49.50,-0.20 49.25,-0.50 48.80,-0.80 47.65,-1.15 47.50,-1.25 47.80,-1.45 48.35,-2.00 48.35,-2.10 48.60,-2.35 49.15,-3.55 49.15,-3.85 49.20,-3.90 49.20,-4.90 49.15,-5.00 49.75,-5.35 50.00,-5.65 50.15,-6.00 50.20,-6.85 50.10,-7.35 49.75,-7.85 49.20,-8.15 48.90,-8.15 48.85,-8.20 48.80,-8.15 48.50,-8.15 47.35,-7.60 46.25,-8.15 44.95,-8.20 44.30,-8.05 43.40,-7.60 43.05,-7.35 42.30,-6.55 41.75,-5.50 41.80,-5.45 41.70,-5.25 41.70,-4.95 41.65,-4.90 41.65,-3.90 41.70,-3.85 41.70,-3.55 41.80,-3.35 41.75,-3.30 41.85,-3.10 41.75,-3.05 41.30,-2.15 41.15,-1.45 41.15,-1.00 41.20,-0.95 41.15,-0.75 40.75,-1.15 40.40,-1.30 40.10,-1.30 39.95,-1.40 39.95,-5.35 39.80,-6.00 39.35,-6.90 39.10,-7.25 38.80,-7.50 37.00,-8.15 35.65,-8.20 35.60,-8.15 35.10,-8.10 34.30,-7.80 34.15,-7.80 33.70,-8.10 33.20,-8.20 31.25,-8.20 30.75,-8.10 30.25,-7.75 29.95,-7.20 29.95,-6.90 29.90,-6.85 30.00,-6.35 30.25,-5.95 30.55,-5.70 30.90,-5.55 31.20,-5.55 31.35,-5.45 31.35,-1.40 31.20,-1.30 30.75,-1.25 30.30,-0.95 29.80,-1.25 29.45,-1.30 29.20,-1.75 29.20,-4.90 29.15,-4.95 29.15,-5.25 28.50,-6.55 27.75,-7.35 27.40,-7.60 26.25,-8.15 25.95,-8.15 25.90,-8.20 23.95,-8.20 23.90,-8.15 23.60,-8.15 22.40,-7.60 22.05,-7.35 21.45,-6.75ZM43.40,1.65 43.55,1.60 43.90,1.75 44.40,1.80 44.45,1.85 46.75,1.85 46.95,1.95 46.75,2.05 44.05,2.05 43.50,1.85 43.40,1.75ZM26.00,-2.85 26.00,-2.00 25.50,-1.55 25.10,-1.35 24.20,-1.35 23.95,-1.50 23.80,-1.80 23.80,-2.10 24.00,-2.45 24.45,-2.65 24.70,-2.65 25.95,-2.90ZM45.25,-5.50 45.60,-5.50 45.80,-5.40 46.00,-5.10 46.00,-3.65 45.80,-3.40 45.60,-3.30 45.20,-3.30 45.00,-3.40 44.80,-3.75 44.80,-5.05 44.90,-5.25ZM36.35,-5.50 36.60,-5.35 36.75,-5.05 36.75,-1.40 36.60,-1.30 36.15,-1.25 35.65,-0.95 35.20,-1.25 34.75,-1.30 34.55,-1.40 34.55,-4.80 34.95,-5.20 35.85,-5.50ZM24.30,-5.40 24.35,-5.50 24.80,-5.50 24.85,-5.45 24.50,-5.35ZM127.95,-10.15 127.90,-10.10 127.60,-10.10 127.15,-9.90 126.70,-9.60 119.60,-5.65 119.25,-5.40 119.00,-5.10 118.85,-4.75 118.85,-4.45 118.80,-4.40 118.85,-4.35 118.85,-4.05 119.00,-3.70 119.55,-3.15 123.10,-1.20 127.10,1.10 127.60,1.30 127.90,1.30 127.95,1.35 128.00,1.30 128.30,1.30 128.65,1.15 128.95,0.90 129.20,0.50 129.30,0.00 129.25,-0.05 129.25,-0.35 128.95,-0.90 128.55,-1.25 125.60,-2.85 125.15,-3.15 123.20,-4.20 122.95,-4.40 128.55,-7.55 128.95,-7.90 129.25,-8.45 129.25,-8.75 129.30,-8.80 129.20,-9.30 128.95,-9.70 128.65,-9.95 128.30,-10.10 128.00,-10.10ZM136.60,-11.55 136.30,-11.55 136.25,-11.60 134.80,-11.60 134.40,-11.50 134.35,-11.55 133.00,-11.10 132.20,-10.55 131.20,-9.50 130.65,-8.45 130.05,-6.20 130.10,-6.15 130.10,-5.90 130.05,-5.85 130.05,-2.95 130.15,-2.55 130.10,-2.45 130.70,-0.75 131.85,0.45 132.00,0.50 132.15,0.65 132.50,0.85 133.85,1.30 134.25,1.30 134.30,1.35 135.70,1.30 137.20,0.80 137.45,0.65 137.60,0.50 137.75,0.45 138.90,-0.75 139.50,-2.45 139.45,-2.55 139.55,-2.95 139.55,-3.40 139.45,-3.80 139.50,-3.90 139.00,-5.40 138.75,-5.80 137.90,-6.60 138.75,-7.40 139.00,-7.80 139.10,-8.30 139.05,-9.15 138.55,-10.20 138.15,-10.75 137.90,-10.90 137.85,-11.00ZM135.00,-5.00 135.40,-4.80 136.10,-4.10 136.40,-3.15 136.05,-2.15 135.40,-1.55 135.00,-1.35 134.60,-1.35 134.20,-1.55 133.55,-2.15 133.20,-3.20 133.50,-4.10 134.10,-4.70ZM135.55,-8.85 135.45,-8.65 135.45,-8.35 135.40,-8.30 135.45,-8.25 135.45,-7.95 135.55,-7.75 135.50,-7.65 134.80,-7.70 134.40,-7.60 134.35,-7.65 133.75,-7.40 133.70,-7.45 133.90,-7.90 134.70,-8.70 135.10,-8.90 135.50,-8.90ZM96.25,-11.15 95.95,-11.40 95.60,-11.55 95.30,-11.55 95.25,-11.60 93.30,-11.60 93.25,-11.55 92.95,-11.55 92.60,-11.40 92.30,-11.15 92.05,-10.75 91.95,-10.25 92.00,-10.20 92.00,-9.90 92.15,-9.55 92.60,-9.10 92.95,-8.95 93.25,-8.95 93.40,-8.85 93.40,-1.40 93.25,-1.30 92.80,-1.25 92.35,-0.95 91.85,-1.25 91.50,-1.30 91.20,-1.80 91.20,-4.90 91.15,-4.95 91.15,-5.25 90.55,-6.55 89.80,-7.35 88.40,-8.10 87.90,-8.20 85.95,-8.20 85.90,-8.15 85.60,-8.15 84.45,-7.60 84.10,-7.35 83.50,-6.75 83.20,-6.20 83.20,-5.90 83.15,-5.85 83.20,-5.00 83.55,-4.35 83.25,-3.95 82.80,-3.10 82.65,-2.45 82.70,-1.10 83.25,0.10 83.35,0.15 83.50,0.40 84.15,0.85 85.50,1.30 85.90,1.30 85.95,1.35 87.40,1.35 87.45,1.30 87.75,1.30 87.95,1.20 88.10,1.20 89.00,0.75 89.05,0.65 89.20,0.65 90.20,1.20 90.85,1.35 91.70,1.30 92.05,1.15 92.30,0.95 92.80,1.25 93.30,1.35 96.70,1.35 97.20,1.25 97.60,1.00 97.85,0.70 98.00,0.35 98.00,0.05 98.05,0.00 97.95,-0.50 97.70,-0.90 97.40,-1.15 97.05,-1.30 96.75,-1.30 96.60,-1.40 96.60,-10.25 96.50,-10.75ZM88.05,-2.85 88.05,-2.05 87.60,-1.60 87.10,-1.35 86.25,-1.35 85.95,-1.55 85.85,-1.75 85.85,-2.15 86.05,-2.45 86.50,-2.65 86.75,-2.65 88.00,-2.90ZM86.35,-5.40 86.40,-5.50 86.85,-5.50 86.90,-5.45 86.55,-5.35ZM69.50,-11.55 68.95,-11.25 68.70,-10.95 68.55,-10.60 68.55,-10.30 68.50,-10.25 68.50,-8.25 68.35,-8.15 67.90,-8.10 67.40,-7.75 67.10,-7.20 67.10,-6.90 67.05,-6.85 67.10,-6.80 67.10,-6.50 67.25,-6.15 67.50,-5.85 67.90,-5.60 68.35,-5.55 68.50,-5.45 68.50,-1.95 68.65,-1.20 69.00,-0.15 69.20,0.20 69.45,0.50 69.80,0.75 70.95,1.30 71.25,1.30 71.30,1.35 72.65,1.30 73.85,0.75 74.50,0.10 75.05,-1.10 75.05,-1.40 75.10,-1.45 75.05,-1.50 75.05,-1.80 74.90,-2.15 74.65,-2.45 74.25,-2.70 73.75,-2.80 73.25,-2.70 72.85,-2.45 72.50,-2.00 72.30,-1.55 72.00,-1.35 71.70,-2.10 71.70,-5.45 71.75,-5.50 72.65,-5.55 73.20,-5.85 73.45,-6.15 73.60,-6.50 73.60,-6.80 73.65,-6.85 73.60,-6.90 73.60,-7.20 73.45,-7.55 73.00,-8.00 72.65,-8.15 71.75,-8.20 71.70,-8.25 71.70,-10.25 71.60,-10.75 71.35,-11.15 71.05,-11.40 70.70,-11.55 70.40,-11.55 70.35,-11.60 70.30,-11.55 69.90,-11.55 69.85,-11.60 69.80,-11.55ZM0.30,-10.95 0.15,-10.60 0.15,-10.30 0.10,-10.25 0.10,-7.35 0.15,-7.30 0.15,-7.00 0.30,-6.65 0.55,-6.35 0.95,-6.10 1.45,-6.00 1.50,-6.05 1.80,-6.05 2.15,-6.20 2.45,-6.45 2.80,-7.10 3.05,-8.75 3.15,-8.90 5.30,-8.90 5.35,-8.85 0.20,-0.50 0.10,0.00 0.15,0.05 0.15,0.35 0.30,0.70 0.75,1.15 1.10,1.30 1.40,1.30 1.45,1.35 8.30,1.35 8.35,1.30 8.65,1.30 9.00,1.15 9.55,0.60 9.75,0.90 10.05,1.15 10.40,1.30 10.70,1.30 10.75,1.35 14.15,1.35 14.65,1.25 15.10,0.95 15.60,1.25 16.10,1.35 19.55,1.35 19.60,1.30 19.90,1.30 20.25,1.15 20.70,0.70 20.85,0.35 20.85,0.05 20.90,0.00 20.85,-0.05 20.85,-0.35 20.70,-0.70 20.25,-1.15 19.90,-1.30 19.60,-1.30 19.40,-1.40 19.40,-5.35 19.35,-5.40 19.35,-5.70 19.25,-5.90 19.30,-6.00 18.75,-7.05 18.50,-7.35 18.00,-7.65 16.45,-8.15 15.15,-8.20 15.10,-8.15 14.60,-8.10 14.10,-7.90 14.05,-7.95 14.05,-10.25 14.00,-10.30 14.00,-10.60 13.85,-10.95 13.40,-11.40 13.05,-11.55 12.75,-11.55 12.70,-11.60 10.75,-11.60 10.70,-11.55 10.40,-11.55 10.05,-11.40 9.50,-10.85 9.30,-11.15 9.00,-11.40 8.65,-11.55 8.35,-11.55 8.30,-11.60 1.45,-11.60 1.40,-11.55 1.10,-11.55 0.75,-11.40ZM15.80,-5.50 16.00,-5.40 16.25,-5.05 16.25,-1.40 16.05,-1.30 15.60,-1.25 15.10,-0.95 14.65,-1.25 14.20,-1.30 14.05,-1.40 14.05,-4.80 14.45,-5.20 15.35,-5.50ZM10.80,-8.90 10.85,-8.85 10.85,-1.40 10.70,-1.30 10.25,-1.25 9.85,-1.00 9.70,-0.80 9.65,-0.85 9.65,-2.95 9.55,-3.45 9.30,-3.85 9.00,-4.10 8.65,-4.25 8.35,-4.25 8.30,-4.30 8.25,-4.25 7.95,-4.25 7.60,-4.10 7.15,-3.65 6.95,-3.15 6.95,-2.90 6.65,-1.35 4.45,-1.35 4.40,-1.40 9.35,-9.35 9.45,-9.60 9.55,-9.65 9.75,-9.35 10.05,-9.10 10.40,-8.95ZM141.15,-13.55 140.65,-13.45 140.15,-13.10 139.85,-12.55 139.85,-12.25 139.80,-12.20 139.85,-12.15 139.85,-11.85 140.15,-11.30 141.05,-10.40 141.85,-8.80 142.30,-7.45 142.75,-5.20 142.75,-3.60 142.30,-1.35 141.85,0.00 141.05,1.60 140.15,2.50 139.85,3.05 139.85,3.35 139.80,3.40 139.85,3.45 139.85,3.75 140.15,4.30 140.65,4.65 141.15,4.75 141.65,4.65 142.15,4.35 143.10,3.40 143.10,3.30 143.30,3.15 144.20,1.80 145.30,-0.35 145.90,-3.10 145.85,-3.20 145.90,-3.40 145.90,-5.35 145.85,-5.60 145.90,-5.70 145.35,-8.30 144.35,-10.30 144.25,-10.40 144.20,-10.60 143.30,-11.95 143.10,-12.10 143.10,-12.20 141.85,-13.35 141.50,-13.50 141.20,-13.50ZM107.95,-13.55 107.90,-13.50 107.60,-13.50 107.25,-13.35 106.70,-12.90 105.75,-11.90 104.85,-10.55 104.85,-10.40 104.50,-9.85 103.65,-8.05 103.20,-5.80 103.20,-5.40 103.15,-5.35 103.15,-3.40 103.20,-3.35 103.20,-3.00 103.65,-0.75 103.75,-0.60 103.80,-0.30 104.75,1.60 104.85,1.65 104.85,1.75 105.95,3.35 106.95,4.35 107.45,4.65 107.95,4.75 108.45,4.65 108.95,4.30 109.25,3.75 109.25,3.45 109.30,3.40 109.25,3.35 109.25,3.05 108.95,2.50 108.05,1.65 107.25,0.05 106.80,-1.30 106.35,-3.50 106.35,-5.30 106.80,-7.50 107.25,-8.85 108.00,-10.35 108.95,-11.30 109.25,-11.85 109.25,-12.15 109.30,-12.20 109.25,-12.25 109.25,-12.55 108.95,-13.10 108.45,-13.45Z" fill="#68cc68" fill-rule="evenodd" shape-rendering="crispEdges" transform="translate(289.00,90.35)"/>
<path aria-label="f250" d="M39.00,-14.60 38.60,-14.50 38.55,-14.55 36.60,-13.90 36.25,-13.70 35.85,-13.25 34.75,-11.60 34.45,-10.95 33.85,-7.95 33.85,-7.60 33.80,-7.55 33.80,-5.65 34.45,-2.25 34.70,-1.70 35.85,0.05 36.25,0.45 36.75,0.75 38.55,1.35 38.60,1.30 39.00,1.40 40.25,1.40 40.65,1.30 40.70,1.35 42.50,0.75 43.00,0.45 43.35,0.10 44.55,-1.70 44.80,-2.30 45.40,-5.30 45.35,-5.45 45.40,-5.65 45.40,-7.55 45.35,-7.75 45.40,-7.90 44.70,-11.20 43.25,-13.45 43.00,-13.70 42.65,-13.90 40.70,-14.55 40.65,-14.50 40.25,-14.60ZM39.25,-11.80 39.95,-11.80 40.65,-11.45 41.00,-11.10 41.45,-10.20 42.00,-7.45 42.00,-5.75 41.45,-3.00 41.00,-2.10 40.70,-1.80 39.90,-1.40 39.30,-1.40 38.60,-1.75 38.25,-2.10 37.80,-3.00 37.25,-5.70 37.25,-7.50 37.80,-10.20 38.25,-11.10 38.65,-11.50ZM23.55,-14.55 23.20,-14.40 22.80,-14.05 22.50,-13.45 21.25,-7.20 21.30,-7.15 21.25,-6.90 21.30,-6.85 21.30,-6.55 21.45,-6.20 21.80,-5.80 22.15,-5.60 22.65,-5.50 22.70,-5.55 23.00,-5.55 23.50,-5.80 24.75,-7.00 25.95,-7.40 27.40,-7.40 28.15,-7.00 28.95,-6.20 29.40,-4.90 29.40,-3.90 29.00,-2.70 28.05,-1.75 27.35,-1.40 25.95,-1.40 24.75,-1.80 24.65,-1.90 25.10,-2.45 25.25,-2.80 25.25,-3.10 25.30,-3.15 25.20,-3.65 24.90,-4.15 24.25,-4.75 23.75,-5.05 23.25,-5.15 23.20,-5.10 22.90,-5.10 22.55,-4.95 22.15,-4.65 21.65,-4.15 21.35,-3.65 21.25,-3.15 21.25,-2.50 21.40,-1.85 22.15,-0.40 22.90,0.35 23.55,0.75 25.35,1.35 25.40,1.30 25.80,1.40 27.65,1.40 28.05,1.30 28.10,1.35 29.90,0.75 30.55,0.35 31.80,-0.90 32.20,-1.55 32.80,-3.40 32.80,-3.70 32.85,-3.75 32.80,-5.40 32.20,-7.25 31.80,-7.90 30.40,-9.30 30.05,-9.50 28.10,-10.15 28.05,-10.10 27.65,-10.20 25.80,-10.20 25.40,-10.10 25.35,-10.15 24.75,-9.95 24.70,-10.20 24.95,-11.20 27.05,-11.20 27.10,-11.25 27.35,-11.20 30.35,-11.80 30.90,-12.00 31.30,-12.35 31.50,-12.70 31.60,-13.20 31.50,-13.70 31.30,-14.05 31.05,-14.30 30.70,-14.50 30.20,-14.60 23.90,-14.60 23.85,-14.55ZM24.65,-9.95 24.70,-10.00 24.75,-9.95 24.70,-9.90ZM10.80,-13.90 10.45,-13.70 9.70,-12.95 9.40,-12.55 8.70,-11.05 8.65,-10.05 8.75,-9.55 9.05,-9.05 9.65,-8.45 9.75,-8.45 10.20,-8.15 10.70,-8.05 11.20,-8.15 11.70,-8.45 12.30,-9.05 12.50,-9.35 12.65,-9.70 12.65,-10.00 12.70,-10.05 12.60,-10.55 12.10,-11.35 13.35,-11.80 15.45,-11.80 16.15,-11.45 16.45,-11.15 16.85,-10.35 16.85,-9.75 16.50,-9.10 14.90,-8.05 11.30,-6.30 9.70,-4.75 9.35,-4.20 8.70,-2.25 8.70,-1.95 8.65,-1.90 8.65,0.00 8.75,0.50 8.95,0.85 9.20,1.10 9.55,1.30 10.05,1.40 10.55,1.30 10.90,1.10 11.25,0.70 11.40,0.35 11.45,-0.45 11.60,-0.50 14.35,1.20 14.75,1.35 15.05,1.35 15.10,1.40 17.60,1.40 18.10,1.30 18.60,1.00 19.25,0.35 19.50,0.00 20.10,-1.20 20.25,-1.90 20.25,-3.15 20.15,-3.65 19.95,-4.00 19.70,-4.25 19.35,-4.45 18.85,-4.55 18.35,-4.45 18.00,-4.25 17.75,-4.00 17.50,-3.50 17.45,-2.45 16.70,-2.05 15.30,-2.05 12.20,-3.30 12.80,-3.90 13.80,-4.40 16.65,-5.50 17.25,-5.80 18.90,-6.90 19.35,-7.35 20.10,-8.75 20.10,-8.90 20.20,-9.10 20.25,-10.70 20.10,-11.40 19.50,-12.60 19.25,-12.95 18.45,-13.70 18.10,-13.90 16.15,-14.55 16.10,-14.50 15.70,-14.60 13.20,-14.60 12.80,-14.50 12.75,-14.55 12.30,-14.35ZM6.80,-14.50 6.30,-14.60 4.70,-14.55 4.50,-14.45 4.35,-14.45 2.90,-13.70 2.55,-13.30 1.90,-12.00 1.75,-11.30 1.75,-10.25 1.70,-10.20 0.90,-10.15 0.55,-10.00 0.15,-9.65 -0.05,-9.30 -0.15,-8.80 -0.10,-8.75 -0.10,-8.45 0.15,-7.95 0.40,-7.70 0.75,-7.50 1.25,-7.40 1.70,-7.40 1.75,-7.35 1.75,-1.45 1.70,-1.40 0.90,-1.35 0.40,-1.10 0.05,-0.70 -0.10,-0.35 -0.10,-0.05 -0.15,0.00 -0.05,0.50 0.15,0.85 0.40,1.10 0.75,1.30 1.25,1.40 5.65,1.40 6.15,1.30 6.50,1.10 6.75,0.85 6.95,0.50 7.05,0.00 7.00,-0.05 7.00,-0.35 6.75,-0.85 6.50,-1.10 6.15,-1.30 5.65,-1.40 5.20,-1.40 5.15,-1.45 5.15,-7.35 5.20,-7.40 6.65,-7.45 7.00,-7.60 7.40,-7.95 7.65,-8.45 7.65,-8.75 7.70,-8.80 7.65,-8.85 7.65,-9.15 7.40,-9.65 6.90,-10.05 7.15,-10.20 7.90,-10.95 8.20,-11.45 8.30,-11.95 8.25,-12.95 8.10,-13.30 7.90,-13.60 7.30,-14.20ZM5.15,-10.35 5.20,-10.40 5.40,-10.25 5.20,-10.20Z" fill="#0000ff" fill-rule="evenodd" shape-rendering="crispEdges" transform="translate(244.35,170.40)"/>
<path aria-label="f250C" d="M58.15,-14.70 57.85,-14.70 57.80,-14.75 57.30,-14.65 56.95,-14.45 56.50,-13.90 56.30,-14.05 54.30,-14.70 52.70,-14.75 52.65,-14.70 52.15,-14.65 50.35,-14.05 49.80,-13.70 48.30,-12.15 47.65,-10.85 47.65,-10.70 47.55,-10.60 46.90,-8.70 46.95,-8.65 46.85,-8.25 46.85,-5.10 46.95,-4.70 46.90,-4.65 47.50,-2.85 48.30,-1.20 49.80,0.35 50.35,0.70 52.25,1.35 52.30,1.30 52.70,1.40 53.95,1.40 54.35,1.30 54.40,1.35 56.20,0.75 56.80,0.35 56.90,0.35 58.15,-0.90 58.45,-1.35 59.10,-2.65 59.20,-3.15 59.10,-3.65 58.90,-4.00 58.65,-4.25 58.30,-4.45 57.80,-4.55 57.75,-4.50 57.45,-4.50 56.95,-4.25 56.50,-3.80 56.00,-2.75 55.10,-1.85 53.75,-1.40 53.00,-1.40 52.30,-1.75 51.30,-2.75 50.75,-3.85 50.30,-5.20 50.30,-8.10 50.80,-9.60 51.30,-10.60 52.25,-11.55 53.05,-11.95 53.70,-11.95 55.15,-11.45 55.95,-10.65 56.40,-9.20 56.70,-8.65 57.10,-8.30 57.45,-8.15 57.75,-8.15 57.80,-8.10 57.85,-8.15 58.15,-8.15 58.50,-8.30 58.90,-8.65 59.10,-9.00 59.20,-9.50 59.20,-13.35 59.10,-13.85 58.90,-14.20 58.65,-14.45ZM39.35,-14.75 39.30,-14.70 38.80,-14.65 37.00,-14.05 36.60,-13.80 36.35,-13.55 35.00,-11.55 34.80,-11.05 34.65,-10.10 34.55,-9.85 34.20,-8.10 34.15,-5.70 34.80,-2.25 35.05,-1.80 35.00,-1.75 36.20,0.05 36.60,0.45 37.10,0.75 38.90,1.35 38.95,1.30 39.35,1.40 40.65,1.40 41.05,1.30 41.10,1.35 42.90,0.75 43.40,0.45 43.75,0.10 44.95,-1.70 45.10,-2.15 45.20,-2.25 45.80,-5.25 45.80,-5.65 45.85,-5.70 45.85,-7.60 45.80,-7.65 45.80,-8.10 45.65,-8.60 45.20,-11.05 44.95,-11.60 43.65,-13.55 43.40,-13.80 43.00,-14.05 41.20,-14.65 40.70,-14.70 40.65,-14.75ZM39.70,-11.95 40.30,-11.95 41.00,-11.60 41.45,-11.15 41.85,-10.30 42.40,-7.60 42.40,-5.70 41.85,-3.00 41.40,-2.10 41.10,-1.80 40.30,-1.40 39.65,-1.40 38.95,-1.75 38.60,-2.10 38.15,-3.00 37.60,-5.70 37.60,-7.60 38.15,-10.35 38.55,-11.15 39.00,-11.60ZM23.80,-14.70 23.45,-14.55 23.05,-14.20 22.70,-13.45 21.50,-7.45 21.50,-7.05 21.45,-7.00 21.50,-6.95 21.50,-6.65 21.65,-6.30 22.00,-5.90 22.35,-5.70 22.85,-5.60 22.90,-5.65 23.20,-5.65 23.85,-6.00 25.00,-7.10 26.20,-7.50 27.60,-7.50 28.30,-7.15 29.30,-6.15 29.70,-4.95 29.70,-3.95 29.25,-2.65 28.40,-1.80 27.60,-1.40 26.20,-1.40 25.00,-1.80 24.85,-1.90 25.35,-2.45 25.50,-2.80 25.50,-3.10 25.55,-3.15 25.45,-3.65 25.10,-4.20 24.50,-4.80 24.00,-5.10 23.50,-5.20 23.45,-5.15 23.15,-5.15 22.50,-4.80 21.85,-4.15 21.55,-3.65 21.45,-3.15 21.45,-2.55 21.60,-1.90 22.40,-0.40 23.15,0.35 23.80,0.75 25.60,1.35 25.65,1.30 26.05,1.40 27.95,1.40 28.35,1.30 28.40,1.35 30.20,0.75 30.85,0.35 32.10,-0.90 32.45,-1.45 33.05,-3.25 33.10,-3.75 33.15,-3.80 33.15,-5.10 33.10,-5.15 33.05,-5.65 32.45,-7.45 32.10,-8.00 30.85,-9.25 30.30,-9.60 28.50,-10.20 28.00,-10.25 27.95,-10.30 26.05,-10.30 26.00,-10.25 25.50,-10.20 25.00,-10.00 24.90,-10.05 25.10,-11.15 25.20,-11.30 27.30,-11.30 27.35,-11.35 27.80,-11.35 30.55,-11.90 31.20,-12.15 31.60,-12.50 31.80,-12.85 31.90,-13.35 31.80,-13.85 31.60,-14.20 31.35,-14.45 31.00,-14.65 30.50,-14.75 24.15,-14.75 24.10,-14.70ZM11.00,-14.05 10.45,-13.70 9.80,-13.05 9.50,-12.65 8.80,-11.15 8.75,-10.15 8.85,-9.65 9.15,-9.15 9.95,-8.40 10.30,-8.20 10.80,-8.10 11.30,-8.20 11.65,-8.40 12.55,-9.30 12.80,-9.80 12.80,-10.10 12.85,-10.15 12.75,-10.65 12.55,-11.00 12.15,-11.45 13.55,-11.95 15.55,-11.95 16.25,-11.60 16.65,-11.20 17.00,-10.50 17.00,-9.80 16.75,-9.30 16.55,-9.10 15.20,-8.20 11.20,-6.20 9.80,-4.80 9.45,-4.25 8.80,-2.25 8.80,-1.95 8.75,-1.90 8.75,0.00 8.85,0.50 9.05,0.85 9.30,1.10 9.65,1.30 10.15,1.40 10.65,1.30 11.00,1.10 11.35,0.70 11.50,0.35 11.55,-0.45 11.70,-0.50 14.40,1.15 14.90,1.35 15.20,1.35 15.25,1.40 17.80,1.40 18.30,1.30 18.65,1.10 19.40,0.35 19.70,-0.05 20.40,-1.55 20.40,-1.85 20.45,-1.90 20.40,-3.50 20.25,-3.85 19.90,-4.25 19.55,-4.45 19.05,-4.55 18.55,-4.45 18.20,-4.25 17.95,-4.00 17.70,-3.50 17.65,-2.50 16.85,-2.05 15.45,-2.05 12.65,-3.20 12.45,-3.20 12.25,-3.30 12.90,-3.95 13.90,-4.45 17.00,-5.65 17.25,-5.85 17.30,-5.80 19.10,-7.00 19.50,-7.40 19.70,-7.70 20.40,-9.15 20.45,-10.80 20.30,-11.45 19.70,-12.65 19.40,-13.05 18.65,-13.80 18.20,-14.05 16.40,-14.65 15.90,-14.70 15.85,-14.75 13.35,-14.75 13.30,-14.70 12.80,-14.65ZM6.85,-14.65 6.35,-14.75 4.75,-14.70 4.45,-14.60 2.95,-13.80 2.60,-13.40 1.85,-11.95 1.75,-11.45 1.75,-10.35 1.70,-10.30 0.90,-10.25 0.55,-10.10 0.15,-9.75 -0.05,-9.40 -0.15,-8.90 -0.10,-8.85 -0.10,-8.55 0.15,-8.05 0.40,-7.80 0.75,-7.60 1.25,-7.50 1.70,-7.50 1.75,-7.45 1.75,-1.45 1.70,-1.40 0.90,-1.35 0.40,-1.10 0.05,-0.70 -0.10,-0.35 -0.10,-0.05 -0.15,0.00 -0.05,0.50 0.15,0.85 0.40,1.10 0.75,1.30 1.25,1.40 5.70,1.40 6.20,1.30 6.55,1.10 6.80,0.85 7.00,0.50 7.10,0.00 7.05,-0.05 7.05,-0.35 6.80,-0.85 6.55,-1.10 6.20,-1.30 5.70,-1.40 5.25,-1.40 5.20,-1.45 5.20,-7.45 5.25,-7.50 6.70,-7.55 7.05,-7.70 7.45,-8.05 7.70,-8.55 7.70,-8.85 7.75,-8.90 7.70,-8.95 7.70,-9.25 7.45,-9.75 7.20,-10.00 7.00,-10.10 6.95,-10.20 7.35,-10.45 8.10,-11.20 8.30,-11.55 8.40,-12.05 8.35,-13.05 8.20,-13.40 7.20,-14.45ZM5.20,-10.45 5.25,-10.50 5.50,-10.35 5.25,-10.30Z" fill="#ff0000" fill-rule="evenodd" shape-rendering="crispEdges" transform="translate(329.75,186.50)"/>
<path aria-label="0V" d="M9.65,-11.40 9.25,-11.15 8.90,-10.65 8.80,-10.15 8.90,-9.65 9.15,-9.25 9.45,-9.00 9.80,-8.85 10.10,-8.85 10.20,-8.75 12.55,-1.70 12.55,-1.55 13.20,0.40 13.35,0.70 13.60,1.00 14.00,1.25 14.50,1.35 15.00,1.25 15.50,0.90 15.85,0.35 18.80,-8.65 18.95,-8.85 19.25,-8.85 19.60,-9.00 20.05,-9.45 20.20,-9.80 20.20,-10.10 20.25,-10.15 20.15,-10.65 19.90,-11.05 19.60,-11.30 19.25,-11.45 18.95,-11.45 18.90,-11.50 15.95,-11.50 15.45,-11.40 14.95,-11.05 14.65,-10.50 14.65,-10.20 14.60,-10.15 14.70,-9.65 15.05,-9.15 15.45,-8.90 15.90,-8.85 16.00,-8.75 16.00,-8.65 14.95,-5.50 14.75,-5.10 13.50,-8.75 13.50,-8.85 13.60,-8.95 13.75,-9.00 14.05,-9.25 14.35,-9.80 14.35,-10.10 14.40,-10.15 14.35,-10.20 14.35,-10.50 14.05,-11.05 13.55,-11.40 13.05,-11.50 10.15,-11.50ZM4.35,-11.50 4.30,-11.45 3.90,-11.45 2.20,-10.85 1.70,-10.35 0.80,-9.00 0.55,-8.30 0.15,-6.30 0.10,-4.35 0.15,-4.30 0.15,-3.90 0.60,-1.65 0.70,-1.55 0.80,-1.20 1.90,0.40 2.20,0.65 2.60,0.85 3.95,1.30 5.30,1.35 5.70,1.25 5.75,1.30 7.10,0.85 7.50,0.65 7.80,0.40 8.85,-1.15 9.10,-1.70 9.30,-2.95 9.55,-4.00 9.55,-4.30 9.60,-4.35 9.60,-5.80 9.00,-8.75 7.80,-10.60 7.30,-10.95 5.80,-11.45 5.70,-11.40 5.30,-11.50ZM4.65,-8.80 5.05,-8.80 5.65,-8.45 6.00,-7.75 6.40,-5.75 6.40,-4.40 6.00,-2.40 5.70,-1.80 5.50,-1.60 5.00,-1.35 4.65,-1.35 4.05,-1.70 3.65,-2.55 3.30,-4.30 3.30,-5.85 3.70,-7.80 4.00,-8.40 4.15,-8.55Z" fill="#ffa0a0" fill-rule="evenodd" shape-rendering="crispEdges" transform="translate(110.90,180.45)"/>
<path aria-label="primary" d="M53.25,-1.60 54.00,0.00 54.30,0.40 54.85,0.75 56.80,1.40 56.85,1.35 57.25,1.45 59.15,1.45 59.20,1.40 59.50,1.40 61.10,0.65 61.40,0.40 61.80,0.70 63.00,1.30 63.70,1.45 64.30,1.45 64.80,1.35 65.30,1.05 65.60,0.60 65.85,1.00 66.10,1.20 66.55,1.40 66.85,1.40 66.90,1.45 71.40,1.45 71.45,1.40 71.75,1.40 72.20,1.20 72.45,1.00 72.75,0.50 72.85,0.00 72.75,-0.50 72.40,-1.05 71.75,-1.40 70.95,-1.45 70.90,-1.50 70.90,-4.90 71.35,-6.25 72.20,-7.15 72.55,-7.30 72.90,-6.70 73.80,-5.90 74.25,-5.70 74.55,-5.70 74.60,-5.65 75.10,-5.75 75.40,-5.90 75.55,-6.05 75.65,-6.05 76.45,-6.90 76.65,-7.35 76.70,-8.05 76.75,-8.10 76.85,-7.95 77.35,-7.65 78.15,-7.55 81.35,-0.15 81.35,0.00 80.50,1.70 79.75,2.45 79.45,2.15 78.95,1.85 78.45,1.75 78.40,1.80 78.10,1.80 77.65,2.00 77.40,2.20 76.65,3.05 76.45,3.50 76.45,3.80 76.40,3.85 76.50,4.35 76.65,4.65 76.80,4.80 76.80,4.90 77.45,5.55 78.10,5.90 78.40,5.90 78.45,5.95 79.45,5.90 79.75,5.80 81.05,5.15 81.35,4.90 81.45,4.90 82.75,3.55 83.00,3.20 84.25,0.70 84.25,0.60 84.35,0.50 87.80,-7.55 88.60,-7.65 89.15,-8.00 89.50,-8.65 89.50,-8.95 89.55,-9.00 89.50,-9.05 89.50,-9.35 89.30,-9.80 89.10,-10.05 88.60,-10.35 88.10,-10.45 84.25,-10.45 84.20,-10.40 83.90,-10.40 83.25,-10.05 83.00,-9.70 82.50,-10.20 82.05,-10.40 81.75,-10.40 81.70,-10.45 77.85,-10.45 77.35,-10.35 76.85,-10.05 76.65,-9.80 76.40,-9.20 76.30,-9.30 76.30,-9.40 75.65,-10.05 75.55,-10.05 75.40,-10.20 75.10,-10.35 74.60,-10.45 72.70,-10.45 72.65,-10.40 72.35,-10.40 72.15,-10.30 72.00,-10.30 70.75,-9.65 70.45,-10.05 69.80,-10.40 69.50,-10.40 69.45,-10.45 66.90,-10.45 66.40,-10.35 65.90,-10.05 65.70,-9.80 65.50,-9.35 65.50,-9.05 65.45,-9.00 65.55,-8.50 65.90,-7.95 66.55,-7.60 67.30,-7.55 67.35,-7.50 67.35,-1.50 67.30,-1.45 66.55,-1.40 66.10,-1.20 65.85,-1.00 65.60,-0.60 65.35,-1.00 65.10,-1.20 64.65,-1.40 64.35,-1.40 64.20,-1.55 63.85,-2.25 63.85,-6.45 63.80,-6.50 63.80,-6.80 63.30,-7.90 62.75,-8.80 62.15,-9.40 62.05,-9.40 61.70,-9.70 60.50,-10.30 60.35,-10.30 60.15,-10.40 59.85,-10.40 59.80,-10.45 57.25,-10.45 57.20,-10.40 56.90,-10.40 56.70,-10.30 56.55,-10.30 55.35,-9.70 54.95,-9.40 54.25,-8.70 53.95,-8.20 53.85,-7.70 53.90,-6.75 54.25,-6.10 54.70,-5.80 54.30,-5.55 54.10,-5.30 53.30,-3.70 53.20,-3.20ZM60.30,-4.10 60.30,-2.55 59.55,-1.80 58.85,-1.45 57.55,-1.45 57.15,-1.65 57.00,-1.80 56.75,-2.30 56.75,-2.85 57.00,-3.35 57.15,-3.50 57.65,-3.75 58.15,-3.80 60.00,-4.15 60.25,-4.15ZM57.30,-6.70 57.40,-7.10 57.40,-7.45 57.55,-7.55 59.50,-7.55 60.25,-7.15 59.95,-7.05 59.70,-7.05 59.65,-7.00 59.40,-7.00 57.55,-6.65ZM82.95,-8.30 83.05,-8.25 83.25,-7.95 83.75,-7.65 84.55,-7.55 84.60,-7.50 83.40,-4.65 83.25,-4.45 81.95,-7.45 82.00,-7.60 82.20,-7.65 82.70,-7.95ZM13.40,-9.35 13.40,-9.05 13.35,-9.00 13.40,-8.95 13.40,-8.65 13.75,-8.00 14.30,-7.65 14.80,-7.55 15.20,-7.55 15.25,-7.50 15.25,-1.50 15.20,-1.45 14.45,-1.40 13.80,-1.05 13.45,-0.50 13.35,0.00 13.45,0.50 13.75,1.00 14.00,1.20 14.45,1.40 14.75,1.40 14.80,1.45 19.30,1.45 19.80,1.35 20.30,1.05 20.65,0.50 20.75,0.00 20.70,-0.05 20.70,-0.35 20.50,-0.80 20.30,-1.05 19.80,-1.35 19.30,-1.45 18.85,-1.45 18.80,-1.50 18.80,-4.90 19.25,-6.25 20.10,-7.15 20.45,-7.30 20.80,-6.70 21.70,-5.90 22.15,-5.70 22.45,-5.70 22.50,-5.65 23.00,-5.75 23.30,-5.90 23.45,-6.05 23.55,-6.05 24.35,-6.90 24.55,-7.35 24.60,-8.05 24.65,-8.10 24.75,-7.95 25.25,-7.65 25.75,-7.55 26.15,-7.55 26.20,-7.50 26.20,-1.50 26.15,-1.45 25.40,-1.40 24.75,-1.05 24.40,-0.50 24.30,0.00 24.40,0.50 24.70,1.00 24.95,1.20 25.40,1.40 25.70,1.40 25.75,1.45 30.25,1.45 30.30,1.40 30.60,1.40 31.05,1.20 31.55,0.70 31.75,1.00 32.00,1.20 32.45,1.40 32.75,1.40 32.80,1.45 37.30,1.45 37.35,1.40 37.65,1.40 38.10,1.20 38.35,1.00 38.60,0.60 38.85,1.00 39.10,1.20 39.55,1.40 39.85,1.40 39.90,1.45 44.40,1.45 44.45,1.40 44.75,1.40 45.20,1.20 45.45,1.00 45.65,0.70 46.15,1.20 46.60,1.40 46.90,1.40 46.95,1.45 51.45,1.45 51.95,1.35 52.45,1.05 52.65,0.80 52.85,0.35 52.85,0.05 52.90,0.00 52.85,-0.05 52.85,-0.35 52.50,-1.00 51.95,-1.35 51.45,-1.45 51.05,-1.45 51.00,-1.50 51.00,-7.10 50.90,-7.60 50.20,-9.00 49.90,-9.40 49.35,-9.75 47.40,-10.40 47.35,-10.35 46.95,-10.45 45.65,-10.45 45.25,-10.35 45.20,-10.40 43.30,-9.75 42.80,-9.40 42.15,-9.80 40.35,-10.40 40.30,-10.35 39.90,-10.45 38.60,-10.45 38.20,-10.35 38.15,-10.40 36.60,-9.85 36.20,-10.20 35.75,-10.40 35.45,-10.40 35.40,-10.45 32.80,-10.45 32.75,-10.40 32.45,-10.40 32.00,-10.20 31.60,-9.80 31.40,-9.35 31.40,-9.05 31.35,-9.00 31.45,-8.50 31.75,-8.00 32.00,-7.80 32.45,-7.60 33.25,-7.55 33.30,-7.50 33.30,-1.50 33.25,-1.45 32.80,-1.45 32.30,-1.35 31.80,-1.05 31.55,-0.70 31.45,-0.75 31.25,-1.05 30.75,-1.35 30.25,-1.45 29.80,-1.45 29.75,-1.50 29.75,-9.00 29.70,-9.05 29.70,-9.35 29.50,-9.80 29.30,-10.05 28.80,-10.35 28.30,-10.45 25.75,-10.45 25.70,-10.40 25.40,-10.40 24.95,-10.20 24.70,-10.00 24.55,-9.80 24.30,-9.20 24.20,-9.30 24.20,-9.40 23.55,-10.05 23.45,-10.05 23.30,-10.20 23.00,-10.35 22.50,-10.45 20.60,-10.45 20.55,-10.40 20.25,-10.40 20.05,-10.30 19.90,-10.30 18.65,-9.65 18.35,-10.05 17.70,-10.40 17.40,-10.40 17.35,-10.45 14.80,-10.45 14.30,-10.35 13.80,-10.05 13.60,-9.80ZM46.65,-7.55 47.05,-7.35 47.20,-7.20 47.45,-6.70 47.45,-1.50 47.40,-1.45 46.95,-1.45 46.45,-1.35 45.95,-1.05 45.75,-0.75 45.65,-0.70 45.40,-1.05 44.90,-1.35 44.40,-1.45 43.95,-1.45 43.90,-1.50 43.90,-6.50 44.50,-7.10 45.85,-7.55ZM39.60,-7.55 40.10,-7.25 40.35,-6.75 40.35,-1.50 40.30,-1.45 39.55,-1.40 39.10,-1.20 38.85,-1.00 38.60,-0.60 38.35,-1.00 38.10,-1.20 37.65,-1.40 36.90,-1.45 36.85,-1.50 36.85,-6.50 37.55,-7.15 38.75,-7.55ZM0.95,-10.40 0.50,-10.20 0.25,-10.00 -0.05,-9.50 -0.15,-9.00 -0.05,-8.50 0.30,-7.95 0.95,-7.60 1.70,-7.55 1.75,-7.50 1.75,3.00 1.70,3.05 0.95,3.10 0.30,3.45 0.10,3.70 -0.10,4.15 -0.10,4.45 -0.15,4.50 -0.10,4.55 -0.10,4.85 0.25,5.50 0.50,5.70 0.95,5.90 1.25,5.90 1.30,5.95 5.80,5.95 5.85,5.90 6.15,5.90 6.60,5.70 7.00,5.30 7.20,4.85 7.20,4.55 7.25,4.50 7.20,4.45 7.20,4.15 7.00,3.70 6.60,3.30 6.15,3.10 5.35,3.05 5.30,3.00 5.30,1.15 5.40,1.10 5.75,1.30 6.45,1.45 7.70,1.45 8.10,1.35 8.20,1.40 10.00,0.80 10.65,0.40 12.00,-0.95 12.35,-1.50 12.45,-1.95 13.00,-3.50 13.05,-5.15 13.00,-5.20 12.95,-5.70 12.35,-7.50 12.15,-7.90 10.65,-9.40 10.00,-9.80 8.20,-10.40 8.10,-10.35 7.70,-10.45 6.10,-10.40 5.90,-10.30 5.75,-10.30 5.00,-9.90 4.65,-10.20 4.35,-10.35 3.85,-10.45 1.30,-10.45 1.25,-10.40ZM6.75,-7.55 7.40,-7.55 8.20,-7.15 9.05,-6.25 9.50,-4.90 9.50,-4.10 9.05,-2.75 8.10,-1.80 7.40,-1.45 6.75,-1.45 6.05,-1.80 5.30,-2.55 5.30,-6.45 5.95,-7.15ZM27.65,-14.95 27.15,-14.85 26.65,-14.55 25.80,-13.65 25.60,-13.20 25.60,-12.90 25.55,-12.85 25.65,-12.35 25.95,-11.85 26.85,-11.00 27.30,-10.80 27.60,-10.80 27.65,-10.75 28.15,-10.85 28.65,-11.15 29.50,-12.05 29.70,-12.50 29.70,-12.80 29.75,-12.85 29.65,-13.35 29.50,-13.65 29.35,-13.80 29.35,-13.90 28.70,-14.55 28.60,-14.55 28.45,-14.70 28.15,-14.85Z" fill="#743d14" fill-rule="evenodd" shape-rendering="crispEdges" transform="translate(170.15,378.15)"/>
</svg></body></html>
